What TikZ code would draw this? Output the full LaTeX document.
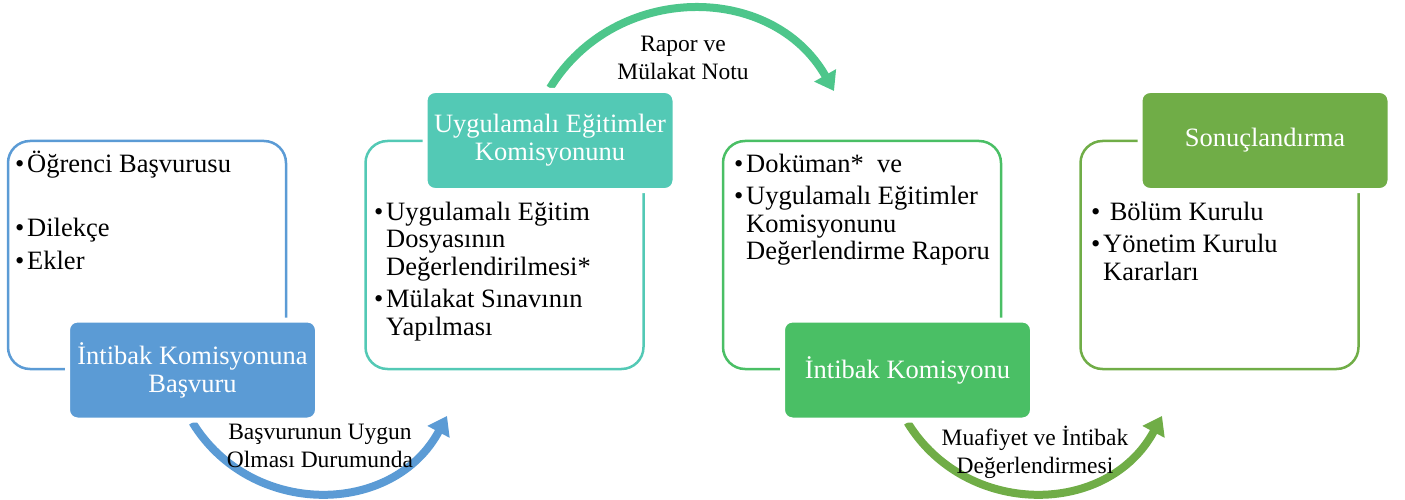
\documentclass[tikz,border=0pt]{standalone}
\usepackage{fontspec}
\setmainfont{Liberation Serif}
\usetikzlibrary{positioning,arrows.meta,backgrounds}

\definecolor{cblue}{HTML}{5B9BD5}
\definecolor{cteal}{HTML}{53C9B5}
\definecolor{cmint}{HTML}{4DC68B}
\definecolor{cgreen}{HTML}{4ABF65}
\definecolor{colive}{HTML}{70AD47}

\newcommand{\fitem}[1]{\hangindent=12pt\hangafter=1\noindent\makebox[12pt][l]{\textbullet}#1}
\newcommand{\bitem}[1]{\par\vspace{5pt}\fitem{#1}}

\begin{document}
\begin{tikzpicture}[x=1pt,y=-1pt,node distance=357.5pt,on grid,
  outbox/.style={draw=#1,line width=2.5pt,rounded corners=22pt,minimum width=278pt,minimum height=228pt,inner sep=0pt},
  titlebox/.style={fill=#1,draw=white,line width=5pt,rounded corners=10pt,minimum width=250pt,minimum height=100pt,text width=240pt,align=flush center,text=white,font=\fontsize{26.5}{28}\selectfont,inner sep=0pt},
  items/.style={anchor=base west,inner sep=0pt,text width=265pt,align=flush left,font=\fontsize{26.5}{27.5}\selectfont},
  lbl/.style={align=flush center,font=\fontsize{23.5}{28}\selectfont,inner sep=0pt},
  flow/.style={draw=#1,line width=8pt,-{Triangle[length=18pt,width=24pt]}}]
  \useasboundingbox (0,0) rectangle (1405,500);

  % frames
  \node[outbox=cblue] (o1) at (147,255) {};
  \node[outbox=cteal] (o2) [right=of o1] {};
  \node[outbox=cgreen] (o3) [right=of o2] {};
  \node[outbox=colive] (o4) [right=of o3] {};

  % contents
  \node[items] (i1) at (15,172) {\fitem{Öğrenci Başvurusu}\par\vspace{32pt}\bitem{Dilekçe}\bitem{Ekler}\par};
  \node[items] (i2) at (374,220) {\fitem{Uygulamalı Eğitim\newline Dosyasının\newline Değerlendirilmesi*}\bitem{Mülakat Sınavının\newline Yapılması}\par};
  \node[items] (i3) at (734,172) {\fitem{Doküman*\ \ ve}\bitem{Uygulamalı Eğitimler\newline Komisyonunu\newline Değerlendirme Raporu}\par};
  \node[items] (i4) at (1091,220) {\fitem{\ Bölüm Kurulu}\bitem{Yönetim Kurulu\newline Kararları}\par};

  % titles
  \node[titlebox=cblue] (t1) [below right=115pt and 45.5pt of o1] {İntibak Komisyonuna\\Başvuru};
  \node[titlebox=cteal] (t2) [above right=114.5pt and 45.5pt of o2] {Uygulamalı Eğitimler\\Komisyonunu};
  \node[titlebox=cgreen] (t3) [below right=115pt and 45.5pt of o3] {İntibak Komisyonu};
  \node[titlebox=colive] (t4) [above right=114.5pt and 45.5pt of o4] {Sonuçlandırma};

  \coordinate (a1) at (447,416);
  \coordinate (a2) at (834,91);
  \coordinate (a3) at (1162,416);

  \begin{pgfonlayer}{background}
    \draw[flow=cblue] (t1.south) .. controls (251,518) and (393,517) .. (a1);
    \draw[flow=cmint] (t2.north) .. controls (615,-18) and (772,-18) .. (a2);
    \draw[flow=colive] (t3.south) .. controls (966,518) and (1108,517) .. (a3);
  \end{pgfonlayer}

  % arrow labels
  \node[lbl] (l1) at (320,446) {Başvurunun Uygun\\Olması Durumunda};
  \node[lbl] (l2) at (683,58) {Rapor ve\\Mülakat Notu};
  \node[lbl] (l3) at (1035,452) {Muafiyet ve İntibak\\Değerlendirmesi};
\end{tikzpicture}
\end{document}
